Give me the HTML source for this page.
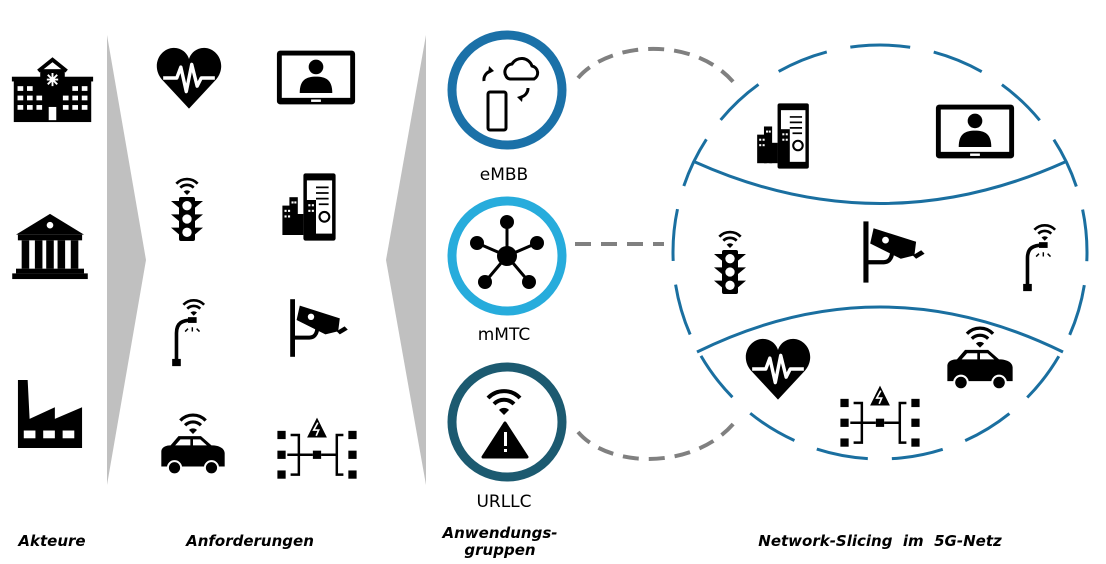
<!DOCTYPE html>
<html><head><meta charset="utf-8"><style>
html,body{margin:0;padding:0;background:#fff}
svg{display:block}
text{font-family:"DejaVu Sans","Liberation Sans",sans-serif}
.lb{font-weight:bold;font-style:italic;font-size:15px;fill:#000}
</style></head><body>
<svg width="1106" height="564" viewBox="0 0 1106 564" xmlns="http://www.w3.org/2000/svg">
<defs>
<symbol id="wifi" viewBox="0 0 40 30">
<path d="M4 12 A22 22 0 0 1 36 12" fill="none" stroke="#000" stroke-width="4"/>
<path d="M10 18 A14 14 0 0 1 30 18" fill="none" stroke="#000" stroke-width="4"/>
<path d="M15 24 A7 7 0 0 1 25 24 L20 29 Z" fill="#000"/>
</symbol>
<symbol id="heart" viewBox="0 0 100 100">
<path d="M50 95 L10 52 C-8 30 10 2 32 6 C42 8 48 15 50 22 C52 15 58 8 68 6 C90 2 108 30 90 52 Z" fill="#000"/>
<path d="M12 50 H32 L38 34 L46 70 L54 30 L62 62 L68 50 H88" fill="none" stroke="#fff" stroke-width="5" stroke-linejoin="round"/>
</symbol>
<symbol id="tablet" viewBox="0 0 100 70">
<rect x="2" y="2" width="96" height="66" rx="4" fill="#000"/>
<rect x="8" y="8" width="84" height="52" fill="#fff"/>
<rect x="44" y="62" width="12" height="3" fill="#fff"/>
<circle cx="50" cy="22" r="9" fill="#000"/>
<path d="M30 54 C30 38 38 34 50 34 C62 34 70 38 70 54 Z" fill="#000"/>
</symbol>
<symbol id="phonecity" viewBox="0 0 80 100">
<rect x="32" y="2" width="46" height="96" rx="3" fill="#000"/>
<rect x="37" y="12" width="36" height="76" fill="#fff"/>
<path d="M50 22h18M50 30h18M50 38h18M54 46h14" stroke="#000" stroke-width="2.5"/>
<circle cx="62" cy="64" r="7" fill="none" stroke="#000" stroke-width="3"/>
<rect x="2" y="48" width="14" height="42" fill="#000"/><rect x="12" y="36" width="12" height="54" fill="#000"/>
<rect x="20" y="60" width="12" height="30" fill="#000"/><rect x="36" y="40" width="14" height="50" fill="#000"/>
<g fill="#fff"><rect x="5" y="54" width="3" height="3"/><rect x="10" y="54" width="3" height="3"/><rect x="5" y="62" width="3" height="3"/><rect x="10" y="62" width="3" height="3"/><rect x="15" y="42" width="3" height="3"/><rect x="19" y="42" width="3" height="3"/><rect x="39" y="46" width="3" height="3"/><rect x="44" y="46" width="3" height="3"/><rect x="39" y="54" width="3" height="3"/><rect x="44" y="54" width="3" height="3"/></g>
</symbol>
<symbol id="traffic" viewBox="0 0 60 100">
<use href="#wifi" x="10" y="0" width="40" height="30"/>
<rect x="18" y="32" width="24" height="66" rx="3" fill="#000"/>
<path d="M6 38h12v10zM54 38h-12v10zM6 58h12v10zM54 58h-12v10zM6 78h12v10zM54 78h-12v10z" fill="#000"/>
<circle cx="30" cy="45" r="7" fill="#fff"/><circle cx="30" cy="65" r="7" fill="#fff"/><circle cx="30" cy="85" r="7" fill="#fff"/>
</symbol>
<symbol id="lamp" viewBox="0 0 60 100">
<use href="#wifi" x="20" y="0" width="36" height="27"/>
<path d="M14 88 V50 C14 36 22 32 36 32" fill="none" stroke="#000" stroke-width="5"/>
<rect x="30" y="28" width="12" height="8" fill="#000"/>
<path d="M30 44 l-4 4 M36 42 v6 M42 44 l4 4" stroke="#000" stroke-width="2"/>
<rect x="8" y="86" width="12" height="10" fill="#000"/>
</symbol>
<symbol id="camera" viewBox="0 0 80 80">
<rect x="4" y="4" width="6" height="72" fill="#000"/>
<path d="M10 52 H28 C36 52 38 44 38 38" fill="none" stroke="#000" stroke-width="5"/>
<path d="M16 12 L66 28 L64 44 L48 48 L12 30 Z" fill="#000"/>
<circle cx="30" cy="26" r="4" fill="#fff"/>
<path d="M62 44 L72 38 L76 42 L66 48 Z" fill="#000"/>
</symbol>
<symbol id="car" viewBox="0 0 100 100">
<use href="#wifi" x="26" y="0" width="48" height="36"/>
<path d="M2 84 V62 C2 54 10 52 16 52 L28 38 H62 L78 52 C92 52 98 58 98 64 V84 Z" fill="#000"/>
<path d="M31 43 H46 V52 H23 Z M50 43 H61 L71 52 H50 Z" fill="#fff"/>
<circle cx="22" cy="86" r="10" fill="#000" stroke="#fff" stroke-width="3"/>
<circle cx="78" cy="86" r="10" fill="#000" stroke="#fff" stroke-width="3"/>
</symbol>
<symbol id="net" viewBox="0 0 100 80">
<g fill="#000">
<rect x="2" y="18" width="10" height="10"/><rect x="2" y="42" width="10" height="10"/><rect x="2" y="66" width="10" height="10"/>
<rect x="88" y="18" width="10" height="10"/><rect x="88" y="42" width="10" height="10"/><rect x="88" y="66" width="10" height="10"/>
<rect x="45" y="42" width="10" height="10"/>
<path d="M50 2 L62 26 H38 Z"/>
</g>
<path d="M18 23 H28 V71 H18 M14 47 H45 M55 47 H74 M82 23 H74 V71 H82" fill="none" stroke="#000" stroke-width="3"/>
<path d="M51 8 L46 17 H52 L49 24" stroke="#fff" stroke-width="2" fill="none"/>
</symbol>
<symbol id="hospital" viewBox="0 0 90 70">
<path d="M30 16 L45 4 L60 16" fill="none" stroke="#000" stroke-width="4"/>
<rect x="2" y="22" width="86" height="5" fill="#000"/>
<rect x="4" y="26" width="82" height="44" fill="#000"/>
<rect x="32" y="14" width="26" height="14" fill="#000"/>
<g fill="#fff">
<rect x="8" y="32" width="6" height="5"/><rect x="18" y="32" width="6" height="5"/><rect x="66" y="32" width="6" height="5"/><rect x="76" y="32" width="6" height="5"/>
<rect x="8" y="42" width="6" height="5"/><rect x="18" y="42" width="6" height="5"/><rect x="28" y="42" width="6" height="5"/><rect x="56" y="42" width="6" height="5"/><rect x="66" y="42" width="6" height="5"/><rect x="76" y="42" width="6" height="5"/>
<rect x="8" y="52" width="6" height="5"/><rect x="18" y="52" width="6" height="5"/><rect x="28" y="52" width="6" height="5"/><rect x="56" y="52" width="6" height="5"/><rect x="66" y="52" width="6" height="5"/><rect x="76" y="52" width="6" height="5"/>
<rect x="41" y="54" width="8" height="14"/>
<path d="M45 18 v14 M39 25 h12 M40 20 l10 10 M50 20 l-10 10" stroke="#fff" stroke-width="2"/>
</g>
</symbol>
<symbol id="bank" viewBox="0 0 80 72">
<path d="M40 2 L76 24 H4 Z" fill="#000"/>
<circle cx="40" cy="14" r="3.5" fill="#fff"/>
<rect x="6" y="24" width="68" height="6" fill="#000"/>
<g fill="#000"><rect x="10" y="30" width="8" height="30"/><rect x="24" y="30" width="8" height="30"/><rect x="36" y="30" width="8" height="30"/><rect x="48" y="30" width="8" height="30"/><rect x="62" y="30" width="8" height="30"/></g>
<rect x="4" y="60" width="72" height="5" fill="#000"/><rect x="0" y="65" width="80" height="6" fill="#000"/>
</symbol>
<symbol id="factory" viewBox="0 0 70 70">
<path d="M2 70 V0 H12 L14 40 L40 28 V40 L68 28 V70 Z" fill="#000"/>
<g fill="#fff"><rect x="8" y="52" width="12" height="8"/><rect x="28" y="52" width="12" height="8"/><rect x="48" y="52" width="12" height="8"/></g>
</symbol>
</defs>

<polygon points="107,35 146,260 107,485" fill="#c0c0c0"/>
<polygon points="426,35 386,260 426,485" fill="#c0c0c0"/>

<use href="#hospital" x="10" y="55" width="85" height="68"/>
<use href="#bank" x="12" y="212" width="76" height="68"/>
<use href="#factory" x="16" y="380" width="68" height="68"/>

<use href="#heart" x="154" y="44" width="70" height="68"/>
<use href="#tablet" x="275" y="49" width="82" height="57"/>
<use href="#traffic" x="167" y="175" width="40" height="68"/>
<use href="#phonecity" x="278" y="172" width="62" height="70"/>
<use href="#lamp" x="164" y="297" width="48" height="72"/>
<use href="#camera" x="284" y="296" width="70" height="64"/>
<use href="#car" x="160" y="410" width="66" height="68"/>
<use href="#net" x="274" y="416" width="86" height="66"/>

<circle cx="507" cy="90" r="55" fill="#fff" stroke="#1b71a8" stroke-width="9"/>
<circle cx="507" cy="256" r="55" fill="#fff" stroke="#27acdc" stroke-width="9"/>
<circle cx="507" cy="422" r="55" fill="#fff" stroke="#1c5a70" stroke-width="9"/>
<path d="M506 76 a8 8 0 0 1 6 -12 a11 11 0 0 1 20 2 a7 7 0 0 1 2 13 h-24 a5 5 0 0 1 -4 -3z" fill="none" stroke="#000" stroke-width="3"/>
<rect x="488" y="92" width="18" height="38" rx="2" fill="none" stroke="#000" stroke-width="3"/>
<path d="M484 81 a9 9 0 0 1 7 -10" fill="none" stroke="#000" stroke-width="3"/><path d="M489 66 l5 5 l-6 3z" fill="#000"/>
<path d="M528 88 a9 9 0 0 1 -7 9" fill="none" stroke="#000" stroke-width="3"/><path d="M522 102 l-5 -5 l6 -2z" fill="#000"/>
<g stroke="#000" stroke-width="3"><line x1="507" y1="256" x2="507" y2="222"/><line x1="507" y1="256" x2="477" y2="243"/><line x1="507" y1="256" x2="537" y2="243"/><line x1="507" y1="256" x2="485" y2="282"/><line x1="507" y1="256" x2="529" y2="282"/></g>
<g fill="#000"><circle cx="507" cy="256" r="10"/><circle cx="507" cy="222" r="7"/><circle cx="477" cy="243" r="7"/><circle cx="537" cy="243" r="7"/><circle cx="485" cy="282" r="7"/><circle cx="529" cy="282" r="7"/></g>
<use href="#wifi" x="484" y="386" width="40" height="30"/>
<path d="M505 423 L527 457 H483 Z" fill="#000" stroke="#000" stroke-width="3" stroke-linejoin="round"/>
<rect x="504" y="432" width="3" height="14" fill="#fff"/><rect x="504" y="449" width="3" height="3" fill="#fff"/>

<text x="504" y="180" font-size="17" text-anchor="middle">eMBB</text>
<text x="504" y="340" font-size="17" text-anchor="middle">mMTC</text>
<text x="504" y="507" font-size="17" text-anchor="middle">URLLC</text>

<path d="M578 78 C610 40 700 35 738 88" fill="none" stroke="#808080" stroke-width="4" stroke-dasharray="16,10"/>
<path d="M575 244 H664" fill="none" stroke="#808080" stroke-width="4" stroke-dasharray="16,10"/>
<path d="M578 432 C610 470 700 470 738 418" fill="none" stroke="#808080" stroke-width="4" stroke-dasharray="16,10"/>

<circle cx="880" cy="252" r="207" fill="none" stroke="#1a6fa0" stroke-width="3" stroke-dasharray="52,24" transform="rotate(-96 880 252)"/>
<path d="M695 162 Q880 245 1065 162" fill="none" stroke="#1a6fa0" stroke-width="3"/>
<path d="M697 352 Q880 262 1063 352" fill="none" stroke="#1a6fa0" stroke-width="3"/>

<use href="#phonecity" x="754" y="102" width="58" height="68"/>
<use href="#tablet" x="934" y="103" width="82" height="57"/>
<use href="#traffic" x="710" y="228" width="40" height="68"/>
<use href="#camera" x="858" y="218" width="72" height="68"/>
<use href="#lamp" x="1015" y="222" width="48" height="72"/>
<use href="#heart" x="743" y="335" width="70" height="68"/>
<use href="#net" x="836" y="384" width="88" height="66"/>
<use href="#car" x="946" y="323" width="68" height="70"/>

<text class="lb" x="52" y="546" text-anchor="middle">Akteure</text>
<text class="lb" x="250" y="546" text-anchor="middle">Anforderungen</text>
<text class="lb" x="500" y="538" text-anchor="middle">Anwendungs-</text>
<text class="lb" x="500" y="555" text-anchor="middle">gruppen</text>
<text class="lb" x="880" y="546" text-anchor="middle" xml:space="preserve">Network-Slicing  im  5G-Netz</text>
</svg>
</body></html>
